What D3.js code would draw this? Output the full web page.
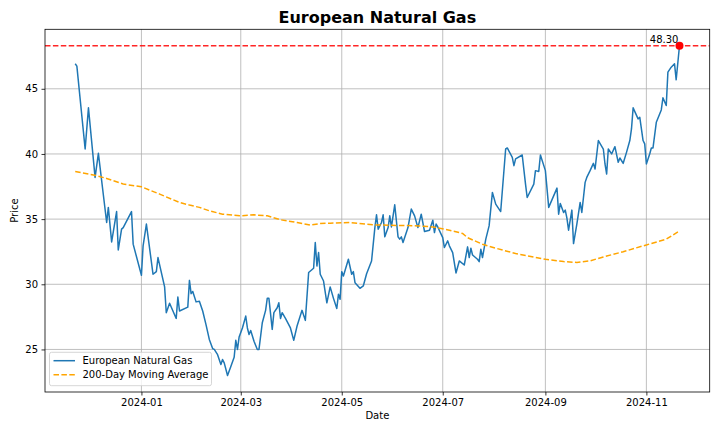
<!DOCTYPE html>
<html>
<head>
<meta charset="utf-8">
<script src="https://cdn.jsdelivr.net/npm/d3@7"></script>
<style>
  html, body { margin: 0; padding: 0; background: #fff; }
  svg { display: block; font-family: "DejaVu Sans", sans-serif; }
</style>
</head>
<body>
<svg id="chart" width="720" height="432"></svg>
<script>
// ---- Data ----
const priceDates = [
  "2023-11-22","2023-11-23","2023-11-28","2023-11-30","2023-12-04","2023-12-06","2023-12-11","2023-12-12",
  "2023-12-14","2023-12-17","2023-12-18","2023-12-20","2023-12-21","2023-12-26","2023-12-27","2024-01-01",
  "2024-01-02","2024-01-04","2024-01-08","2024-01-10","2024-01-11","2024-01-15","2024-01-16","2024-01-18",
  "2024-01-22","2024-01-23","2024-01-24","2024-01-29","2024-01-30","2024-01-31","2024-02-01","2024-02-03",
  "2024-02-05","2024-02-07","2024-02-09","2024-02-11","2024-02-13","2024-02-14","2024-02-16","2024-02-18",
  "2024-02-19","2024-02-20","2024-02-22","2024-02-24","2024-02-26","2024-02-27","2024-02-28","2024-02-29",
  "2024-03-02","2024-03-04","2024-03-05","2024-03-06","2024-03-07","2024-03-09","2024-03-11","2024-03-12",
  "2024-03-14","2024-03-16","2024-03-17","2024-03-18","2024-03-20","2024-03-21","2024-03-23","2024-03-24",
  "2024-03-25","2024-03-26","2024-03-28","2024-03-31","2024-04-02","2024-04-04","2024-04-07","2024-04-09",
  "2024-04-11","2024-04-14","2024-04-15","2024-04-16","2024-04-17","2024-04-18","2024-04-20","2024-04-22",
  "2024-04-24","2024-04-26","2024-04-28","2024-04-29","2024-04-30","2024-05-01","2024-05-02","2024-05-05",
  "2024-05-07","2024-05-08","2024-05-09","2024-05-12","2024-05-14","2024-05-16","2024-05-19","2024-05-21",
  "2024-05-22","2024-05-23","2024-05-25","2024-05-26","2024-05-27","2024-05-29","2024-05-30","2024-05-31",
  "2024-06-02","2024-06-04","2024-06-05","2024-06-06","2024-06-07","2024-06-10","2024-06-12","2024-06-14",
  "2024-06-16","2024-06-18","2024-06-20","2024-06-23","2024-06-25","2024-06-26","2024-06-27","2024-06-28",
  "2024-06-30","2024-07-01","2024-07-02","2024-07-04","2024-07-05","2024-07-07","2024-07-09","2024-07-11",
  "2024-07-14","2024-07-16","2024-07-17","2024-07-18","2024-07-19","2024-07-22","2024-07-23","2024-07-24",
  "2024-07-25","2024-07-27","2024-07-29","2024-07-31","2024-08-02","2024-08-05","2024-08-08","2024-08-09",
  "2024-08-12","2024-08-13","2024-08-14","2024-08-18","2024-08-20","2024-08-21","2024-08-25","2024-08-26",
  "2024-08-28","2024-08-29","2024-09-01","2024-09-03","2024-09-08","2024-09-09","2024-09-10","2024-09-12",
  "2024-09-13","2024-09-14","2024-09-15","2024-09-17","2024-09-18","2024-09-20","2024-09-22","2024-09-23",
  "2024-09-25","2024-09-26","2024-09-28","2024-09-30","2024-10-01","2024-10-03","2024-10-06","2024-10-07",
  "2024-10-08","2024-10-09","2024-10-11","2024-10-13","2024-10-15","2024-10-16","2024-10-18","2024-10-20",
  "2024-10-22","2024-10-23","2024-10-24","2024-10-27","2024-10-28","2024-10-30","2024-10-31","2024-11-01",
  "2024-11-03","2024-11-04","2024-11-05","2024-11-07","2024-11-10","2024-11-11","2024-11-13","2024-11-14",
  "2024-11-16","2024-11-18","2024-11-19","2024-11-21"
];
const priceValues = [
  46.92,46.74,40.38,43.54,38.20,40.05,34.74,35.90,
  33.25,35.58,32.64,34.23,34.35,35.58,33.08,30.69,
  32.95,34.62,30.77,30.97,32.05,29.80,27.82,28.54,
  27.38,29.02,27.95,28.25,30.30,29.28,29.45,28.65,
  28.70,27.95,26.90,25.77,25.07,25.00,24.60,23.85,
  24.23,23.97,23.00,23.70,24.40,25.70,25.00,25.95,
  26.65,27.56,26.65,26.15,26.45,25.63,25.00,25.00,
  27.05,28.00,28.92,28.92,26.54,27.82,28.20,28.58,
  27.38,27.82,27.38,26.65,25.70,26.80,28.00,27.23,
  30.90,31.23,33.20,31.40,32.43,30.77,30.25,28.58,
  29.80,28.92,28.15,29.23,28.85,30.97,30.64,31.92,
  30.77,30.97,30.12,29.69,29.87,30.81,31.79,34.35,
  35.33,34.23,34.74,35.33,33.64,34.35,35.25,34.40,
  36.10,33.64,33.46,33.64,33.20,34.35,35.77,35.25,
  34.35,35.38,34.05,34.15,34.92,33.97,34.62,34.40,
  33.85,33.58,32.82,33.33,32.95,32.43,30.87,31.79,
  31.48,32.87,32.05,32.77,32.25,31.92,31.74,32.69,
  32.05,33.46,34.48,37.05,36.15,35.58,40.38,40.46,
  39.74,39.10,39.62,39.92,37.69,36.66,37.69,38.72,
  38.66,39.92,38.72,35.90,37.38,35.38,36.20,35.51,
  35.69,35.07,34.15,35.69,33.12,34.62,36.28,35.51,
  37.82,38.20,38.72,39.28,38.85,41.03,40.38,39.23,
  38.46,40.38,40.00,40.56,39.36,39.69,39.28,40.12,
  41.03,41.92,43.54,42.69,42.82,41.03,40.77,39.23,
  40.00,40.46,40.46,42.43,43.38,44.31,43.72,46.28,
  46.66,46.92,45.69,48.30
];
const maDates = [
  "2023-11-22","2023-12-05","2023-12-11","2023-12-21","2024-01-01","2024-01-12","2024-01-24","2024-01-30",
  "2024-02-05","2024-02-11","2024-02-19","2024-03-01","2024-03-09","2024-03-17","2024-03-25","2024-04-04",
  "2024-04-12","2024-04-18","2024-04-24","2024-05-06","2024-05-20","2024-06-17","2024-06-25","2024-07-05",
  "2024-07-13","2024-07-16","2024-07-25","2024-08-02","2024-08-14","2024-09-01","2024-09-12","2024-09-20",
  "2024-09-28","2024-10-06","2024-10-18","2024-11-01","2024-11-13","2024-11-21"
];
const maValues = [
  38.66,38.33,38.12,37.69,37.48,36.92,36.28,36.08,
  35.90,35.64,35.38,35.25,35.33,35.25,34.95,34.74,
  34.54,34.66,34.69,34.74,34.56,34.48,34.40,34.15,
  33.90,33.58,33.07,32.77,32.36,31.92,31.74,31.68,
  31.80,32.10,32.50,33.02,33.46,34.10
];
const lastPrice = 48.30;
const seriesNames = ["European Natural Gas", "200-Day Moving Average"];
const yTicks = [25, 30, 35, 40, 45];

// ---- Build ----
const parse = d3.timeParse("%Y-%m-%d");
const price = priceDates.map((d, i) => ({ date: parse(d), value: priceValues[i] }));
const ma = maDates.map((d, i) => ({ date: parse(d), value: maValues[i] }));

const svg = d3.select("#chart");
const L = 45, R = 709.7, T = 29.3, B = 392;

const tExt = d3.extent(price, d => d.date);
const tPad = (tExt[1] - tExt[0]) * 0.05;
const x = d3.scaleTime()
  .domain([new Date(+tExt[0] - tPad), new Date(+tExt[1] + tPad)])
  .range([L, R]);

const vMin = Math.min(d3.min(priceValues), d3.min(maValues));
const vMax = Math.max(d3.max(priceValues), lastPrice);
const vPad = (vMax - vMin) * 0.05;
const y = d3.scaleLinear().domain([vMin - vPad, vMax + vPad]).range([B, T]);

const xTickVals = d3.timeMonth.every(2).range(x.domain()[0], x.domain()[1]);

// grid
svg.append("g").selectAll("line").data(xTickVals).join("line")
  .attr("x1", d => x(d)).attr("x2", d => x(d))
  .attr("y1", T).attr("y2", B)
  .attr("stroke", "#b0b0b0").attr("stroke-width", 0.8);
svg.append("g").selectAll("line").data(yTicks).join("line")
  .attr("x1", L).attr("x2", R)
  .attr("y1", d => y(d)).attr("y2", d => y(d))
  .attr("stroke", "#b0b0b0").attr("stroke-width", 0.8);

svg.append("defs").append("clipPath").attr("id", "clip")
  .append("rect").attr("x", L).attr("y", T).attr("width", R - L).attr("height", B - T);

const plot = svg.append("g").attr("clip-path", "url(#clip)");

// price line
plot.append("path").datum(price)
  .attr("fill", "none").attr("stroke", "#1f77b4").attr("stroke-width", 1.5)
  .attr("stroke-linejoin", "round")
  .attr("d", d3.line().x(d => x(d.date)).y(d => y(d.value)));

// moving average
plot.append("path").datum(ma)
  .attr("fill", "none").attr("stroke", "orange").attr("stroke-width", 1.5)
  .attr("stroke-dasharray", "5.5,2.4")
  .attr("d", d3.line().x(d => x(d.date)).y(d => y(d.value)));

// reference line for last price
plot.append("line")
  .attr("x1", L).attr("x2", R)
  .attr("y1", y(lastPrice)).attr("y2", y(lastPrice))
  .attr("stroke", "red").attr("stroke-opacity", 0.85).attr("stroke-width", 1.5)
  .attr("stroke-dasharray", "5.5,2.4");

const last = price[price.length - 1];
plot.append("circle")
  .attr("cx", x(last.date)).attr("cy", y(last.value)).attr("r", 4)
  .attr("fill", "red");

svg.append("text")
  .attr("x", x(last.date) - 1).attr("y", y(last.value) - 2.5)
  .attr("text-anchor", "end")
  .attr("font-size", 10).attr("fill", "#000")
  .text(lastPrice.toFixed(2));

// axes
const xAxis = svg.append("g").attr("transform", `translate(0,${B})`)
  .call(d3.axisBottom(x).tickValues(xTickVals).tickFormat(d3.timeFormat("%Y-%m")).tickSize(3.5).tickPadding(3.5));
const yAxis = svg.append("g").attr("transform", `translate(${L},0)`)
  .call(d3.axisLeft(y).tickValues(yTicks).tickSize(3.5).tickPadding(3.5));
[xAxis, yAxis].forEach(g => {
  g.select(".domain").remove();
  g.selectAll(".tick line").attr("stroke", "#000").attr("stroke-width", 0.8);
  g.selectAll(".tick text").attr("font-size", 10).attr("fill", "#000")
    .attr("font-family", "DejaVu Sans, sans-serif");
});

// frame
svg.append("rect").attr("x", L).attr("y", T).attr("width", R - L).attr("height", B - T)
  .attr("fill", "none").attr("stroke", "#000").attr("stroke-width", 0.8);

// labels
svg.append("text").attr("x", (L + R) / 2).attr("y", 23)
  .attr("text-anchor", "middle").attr("font-size", 16).attr("font-weight", "bold")
  .text("European Natural Gas");
svg.append("text").attr("x", (L + R) / 2).attr("y", 419)
  .attr("text-anchor", "middle").attr("font-size", 10).text("Date");
svg.append("text").attr("transform", `translate(18,${(T + B) / 2}) rotate(-90)`)
  .attr("text-anchor", "middle").attr("font-size", 10).text("Price");

// legend
const lg = svg.append("g").attr("transform", "translate(49.5,352.3)");
lg.append("rect").attr("width", 162).attr("height", 33.4).attr("rx", 2)
  .attr("fill", "#fff").attr("fill-opacity", 0.8)
  .attr("stroke", "#cccccc").attr("stroke-width", 0.8);
const legendStyles = [
  { color: "#1f77b4", dash: null },
  { color: "orange", dash: "5.5,2.4" }
];
seriesNames.forEach((name, i) => {
  const yy = 8.4 + i * 14;
  lg.append("line").attr("x1", 4).attr("x2", 25.5).attr("y1", yy).attr("y2", yy)
    .attr("stroke", legendStyles[i].color).attr("stroke-width", 1.5)
    .attr("stroke-dasharray", legendStyles[i].dash);
  lg.append("text").attr("x", 33).attr("y", yy + 3.6).attr("font-size", 10).text(name);
});
</script>
</body>
</html>
